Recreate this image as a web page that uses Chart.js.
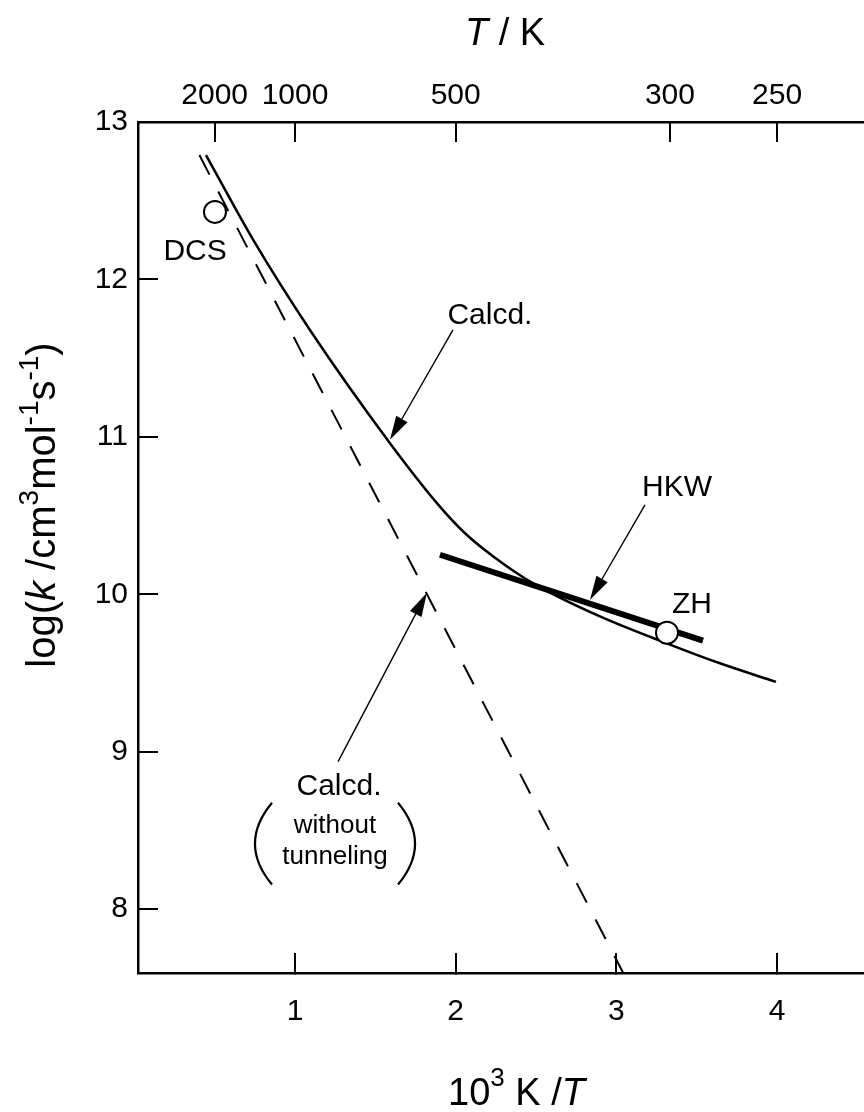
<!DOCTYPE html>
<html>
<head>
<meta charset="utf-8">
<script src="https://cdn.jsdelivr.net/npm/chart.js@4.4.1/dist/chart.umd.min.js"></script>
<style>
  html, body { margin: 0; padding: 0; background: #fff; overflow: hidden; }
  canvas { display: block; }
</style>
</head>
<body>
<canvas id="myChart" width="864" height="1112"></canvas>
<script>
// x = 10^3 K / T, y = log(k / cm3 mol-1 s-1)
const calcdX = [0.446, 0.740, 1.093, 1.591, 1.902, 2.060, 2.234, 2.479, 2.898, 3.309, 3.640, 3.993];
const calcdY = [12.790, 12.251, 11.679, 10.960, 10.557, 10.386, 10.240, 10.071, 9.859, 9.690, 9.563, 9.443];

const noTunnelX = [0.405, 3.06];
const noTunnelY = [12.790, 7.56];

const hkwX = [1.902, 3.539];
const hkwY = [10.251, 9.705];

const dcsX = [0.502];
const dcsY = [12.429];
const zhX = [3.315];
const zhY = [9.756];

const bottomTicks = [1, 2, 3, 4];
const leftTicks = [8, 9, 10, 11, 12, 13];
const topTempK = [2000, 1000, 500, 300, 250];

const FONT = "'Liberation Sans', Arial, Helvetica, sans-serif";
Chart.defaults.font.family = FONT;
Chart.defaults.color = "#000";

const toPts = (xs, ys) => xs.map((x, i) => ({ x: x, y: ys[i] }));

// labels and arrows inside the plot, in data units
const notes = [
  { text: "Calcd.", x: 2.213, y: 11.717, size: 30 },
  { text: "HKW", x: 3.377, y: 10.625, size: 30 },
  { text: "ZH", x: 3.470, y: 9.883, size: 30 },
  { text: "DCS", x: 0.378, y: 12.124, size: 30 },
  { text: "Calcd.", x: 1.274, y: 8.727, size: 30 },
  { text: "without", x: 1.249, y: 8.486, size: 26 },
  { text: "tunneling", x: 1.249, y: 8.289, size: 26 },
];
const arrows = [
  { from: [1.983, 11.679], to: [1.591, 10.981] },
  { from: [3.178, 10.568], to: [2.836, 9.965] },
  { from: [1.268, 8.937], to: [1.821, 10.010] },
];
const parens = [
  { a: [0.857, 8.676], c: [0.645, 8.416], b: [0.857, 8.156] },
  { a: [1.641, 8.676], c: [1.853, 8.416], b: [1.641, 8.156] },
];

const annotate = {
  id: "annotate",
  afterDatasetsDraw(chart) {
    const ctx = chart.ctx;
    const xs = chart.scales.x, ys = chart.scales.y;
    const P = (p) => [xs.getPixelForValue(p[0]), ys.getPixelForValue(p[1])];
    ctx.save();
    ctx.fillStyle = "#000";
    ctx.strokeStyle = "#000";
    ctx.textAlign = "center";
    ctx.textBaseline = "alphabetic";
    notes.forEach(n => {
      ctx.font = n.size + "px " + FONT;
      ctx.fillText(n.text, xs.getPixelForValue(n.x), ys.getPixelForValue(n.y));
    });
    arrows.forEach(a => {
      const [x1, y1] = P(a.from), [x2, y2] = P(a.to);
      const ang = Math.atan2(y2 - y1, x2 - x1);
      const len = 24, hw = 6.5;
      const bx = x2 - len * Math.cos(ang), by = y2 - len * Math.sin(ang);
      ctx.lineWidth = 1.4;
      ctx.beginPath();
      ctx.moveTo(x1, y1);
      ctx.lineTo(bx, by);
      ctx.stroke();
      ctx.beginPath();
      ctx.moveTo(x2, y2);
      ctx.lineTo(bx + hw * Math.sin(ang), by - hw * Math.cos(ang));
      ctx.lineTo(bx - hw * Math.sin(ang), by + hw * Math.cos(ang));
      ctx.closePath();
      ctx.fill();
    });
    ctx.lineWidth = 2.2;
    parens.forEach(p => {
      const a = P(p.a), c = P(p.c), b = P(p.b);
      ctx.beginPath();
      ctx.moveTo(a[0], a[1]);
      ctx.quadraticCurveTo(c[0], c[1], b[0], b[1]);
      ctx.stroke();
    });
    ctx.restore();
  },
  afterDraw(chart) {
    const ctx = chart.ctx;
    ctx.save();
    ctx.fillStyle = "#000";
    ctx.textBaseline = "alphabetic";
    ctx.textAlign = "left";
    const run = (parts, x, y) => {
      parts.forEach(p => {
        ctx.font = (p.it ? "italic " : "") + p.size + "px " + FONT;
        ctx.fillText(p.t, x, y - (p.up || 0));
        x += ctx.measureText(p.t).width;
      });
    };
    const width = (parts) => parts.reduce((w, p) => {
      ctx.font = (p.it ? "italic " : "") + p.size + "px " + FONT;
      return w + ctx.measureText(p.t).width;
    }, 0);

    // top title
    const topT = [{ t: "T", it: true, size: 38 }, { t: " / K", size: 38 }];
    run(topT, 505 - width(topT) / 2, 45);

    // bottom title
    const botT = [{ t: "10", size: 38 }, { t: "3", size: 26, up: 19 }, { t: " K /", size: 38 }, { t: "T", it: true, size: 38 }];
    run(botT, 448, 1105);

    // y title
    const yT = [
      { t: "log(", size: 40 }, { t: "k", it: true, size: 40 }, { t: " /cm", size: 40 },
      { t: "3", size: 28, up: 17 }, { t: "mol", size: 40 }, { t: "-1", size: 28, up: 17 },
      { t: "s", size: 40 }, { t: "-1", size: 28, up: 17 }, { t: ")", size: 40 }
    ];
    ctx.translate(55, 505);
    ctx.rotate(-Math.PI / 2);
    run(yT, -width(yT) / 2, 0);
    ctx.restore();
  }
};

const ctx = document.getElementById("myChart");
const mychart = new Chart(ctx, {
  type: "scatter",
  data: {
    datasets: [
      {
        label: "DCS",
        data: toPts(dcsX, dcsY),
        pointRadius: 11,
        pointBackgroundColor: "#fff",
        pointBorderColor: "#000",
        pointBorderWidth: 2,
      },
      {
        label: "ZH",
        data: toPts(zhX, zhY),
        pointRadius: 11,
        pointBackgroundColor: "#fff",
        pointBorderColor: "#000",
        pointBorderWidth: 2,
      },
      {
        label: "HKW",
        data: toPts(hkwX, hkwY),
        showLine: true,
        borderColor: "#000",
        borderWidth: 6,
        pointRadius: 0,
      },
      {
        label: "Calcd.",
        data: toPts(calcdX, calcdY),
        showLine: true,
        borderColor: "#000",
        borderWidth: 2.5,
        pointRadius: 0,
        cubicInterpolationMode: "monotone",
      },
      {
        label: "Calcd. without tunneling",
        data: toPts(noTunnelX, noTunnelY),
        showLine: true,
        borderColor: "#000",
        borderWidth: 2,
        borderDash: [22, 19],
        pointRadius: 0,
      },
    ],
  },
  options: {
    responsive: false,
    animation: false,
    layout: { autoPadding: false, padding: 0 },
    plugins: {
      legend: { display: false },
      tooltip: { enabled: false },
    },
    scales: {
      x: {
        type: "linear",
        position: "bottom",
        min: 0.023,
        max: 4.541,
        afterBuildTicks: (s) => { s.ticks = bottomTicks.map(v => ({ value: v })); },
        afterFit: (s) => { s.height = 139; },
        ticks: { font: { size: 30 }, color: "#000", padding: 41, maxRotation: 0, autoSkip: false },
        grid: { drawOnChartArea: false, drawTicks: true, tickLength: -20, color: "#000", lineWidth: 2 },
        border: { display: true, color: "#000", width: 2.5 },
      },
      x2: {
        type: "linear",
        position: "top",
        min: 0.023,
        max: 4.541,
        afterBuildTicks: (s) => { s.ticks = topTempK.map(t => ({ value: 1000 / t })); },
        afterFit: (s) => { s.height = 122; },
        ticks: {
          font: { size: 30 }, color: "#000", padding: 28, maxRotation: 0, autoSkip: false,
          callback: (v, i) => String(topTempK[i]),
        },
        grid: { drawOnChartArea: false, drawTicks: true, tickLength: -20, color: "#000", lineWidth: 2 },
        border: { display: true, color: "#000", width: 2.5 },
      },
      y: {
        type: "linear",
        position: "left",
        min: 7.594,
        max: 13,
        afterBuildTicks: (s) => { s.ticks = leftTicks.map(v => ({ value: v })); },
        afterFit: (s) => { s.width = 138; },
        ticks: { font: { size: 30 }, color: "#000", padding: 30 },
        grid: { drawOnChartArea: false, drawTicks: true, tickLength: -20, color: "#000", lineWidth: 2 },
        border: { display: true, color: "#000", width: 2.5 },
      },
    },
  },
  plugins: [annotate],
});
</script>
</body>
</html>
